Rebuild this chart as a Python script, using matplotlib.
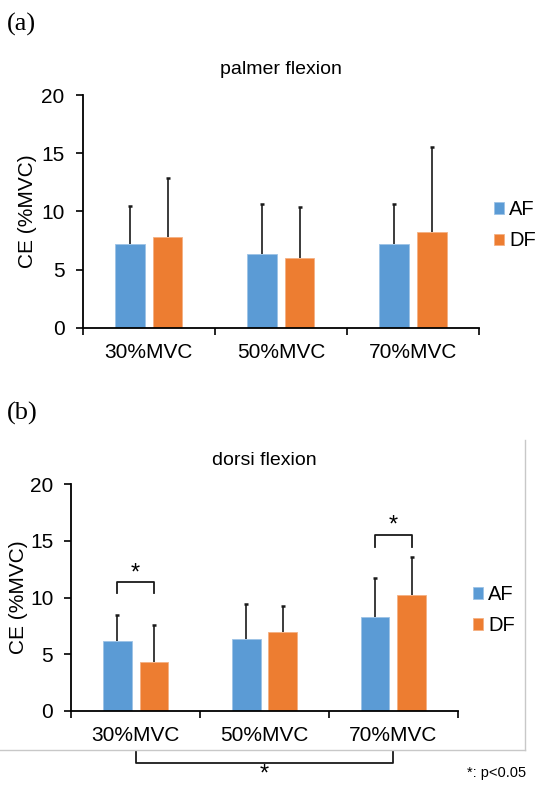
import matplotlib
matplotlib.use("Agg")
import matplotlib.pyplot as plt
from matplotlib.lines import Line2D
import numpy as np

categories = ["30%MVC", "50%MVC", "70%MVC"]
series_names = ["AF", "DF"]

# (a) palmer flexion
palmer_af_mean = [7.17, 6.34, 7.17]
palmer_af_sd = [3.29, 4.27, 3.49]
palmer_df_mean = [7.80, 5.99, 8.23]
palmer_df_sd = [5.07, 4.36, 7.33]

# (b) dorsi flexion
dorsi_af_mean = [6.20, 6.33, 8.30]
dorsi_af_sd = [2.30, 3.11, 3.46]
dorsi_df_mean = [4.30, 7.00, 10.20]
dorsi_df_sd = [3.29, 2.27, 3.40]

yticks = [0, 5, 10, 15, 20]

BLUE = "#5B9BD5"
ORANGE = "#ED7D31"
FONT = ["Liberation Sans", "DejaVu Sans"]
SERIF = ["Liberation Serif", "DejaVu Serif"]

plt.rcParams["font.family"] = FONT

fig = plt.figure(figsize=(5.37, 7.85), dpi=100)

ax_a = fig.add_axes([0.154, 0.5825, 0.738, 0.2964])
ax_b = fig.add_axes([0.1328, 0.0943, 0.7195, 0.2888])

W = 0.224
OFF = 0.142
FS = 15


def draw(ax, af_m, af_s, df_m, df_s, title, title_pad, ylabel_pad, leg_anchor):
    x = np.arange(len(categories))
    ax.bar(x - OFF, af_m, W, color=BLUE, edgecolor="#9DC3E6", linewidth=0.6,
           label=series_names[0], zorder=2)
    ax.bar(x + OFF, df_m, W, color=ORANGE, edgecolor="#F4B183", linewidth=0.6,
           label=series_names[1], zorder=2)
    for xs, m, s in ((x - OFF, af_m, af_s), (x + OFF, df_m, df_s)):
        m = np.asarray(m)
        top = m + np.asarray(s)
        ax.vlines(xs, m, top, color="#1a1a1a", lw=1.2, zorder=3)
        ax.plot(xs, top, linestyle="none", marker="_", markersize=3.5,
                markeredgewidth=1.8, color="#1a1a1a", zorder=3)
    ax.set_xlim(-0.5, 2.5)
    ax.set_ylim(0, 20)
    ax.set_yticks(yticks)
    ax.set_xticks([-0.5, 0.5, 1.5, 2.5])
    ax.set_xticklabels([])
    ax.set_xticks(x, minor=True)
    ax.set_xticklabels(categories, minor=True)
    ax.tick_params(axis="x", which="major", direction="out", length=5, width=1.2)
    ax.tick_params(axis="x", which="minor", length=0, pad=11, labelsize=FS)
    ax.tick_params(axis="y", direction="out", length=5, width=1.2, pad=8, labelsize=FS)
    for sp in ("top", "right"):
        ax.spines[sp].set_visible(False)
    for sp in ("left", "bottom"):
        ax.spines[sp].set_linewidth(1.3)
    ax.set_ylabel("CE (%MVC)", fontsize=FS, labelpad=ylabel_pad)
    ax.set_title(title, fontsize=14, pad=title_pad)
    ax.legend(loc="center left", bbox_to_anchor=leg_anchor, frameon=False,
              fontsize=14.5, handlelength=0.5, handleheight=0.5,
              handletextpad=0.25, labelspacing=0.6, borderaxespad=0, borderpad=0)
    return ax


draw(ax_a, palmer_af_mean, palmer_af_sd, palmer_df_mean, palmer_df_sd,
     "palmer flexion", 15, 3, (1.038, 0.44))
draw(ax_b, dorsi_af_mean, dorsi_af_sd, dorsi_df_mean, dorsi_df_sd,
     "dorsi flexion", 14, 1, (1.04, 0.445))

# significance brackets in panel (b)
def bracket(ax, x0, x1, ylow, yhigh, star_y):
    ax.plot([x0, x0, x1, x1], [ylow, yhigh, yhigh, ylow], color="#1a1a1a", lw=1.3,
            clip_on=False, zorder=4)
    ax.text((x0 + x1) / 2, star_y, "*", ha="center", va="center", fontsize=17,
            clip_on=False)

bracket(ax_b, 0 - OFF, 0 + OFF, 10.4, 11.36, 12.15)
bracket(ax_b, 2 - OFF, 2 + OFF, 14.5, 15.53, 16.33)

# between-condition bracket below the axis
ax_b.plot([0, 0, 2, 2], [-3.53, -4.62, -4.62, -3.53], color="#1a1a1a", lw=1.3,
          clip_on=False)
ax_b.text(1, -5.6, "*", ha="center", va="center", fontsize=17, clip_on=False)

# light frame around panel (b)
fig.add_artist(Line2D([0.0, 0.9777], [0.0446, 0.0446], color="#c8c8c8", lw=1.0,
                      transform=fig.transFigure))
fig.add_artist(Line2D([0.9777, 0.9777], [0.0446, 0.4395], color="#c8c8c8", lw=1.0,
                      transform=fig.transFigure))

fig.text(0.87, 1 - 773.3 / 785, "*: p<0.05", ha="left", va="center", fontsize=10.5)

fig.text(0.013, 1 - 24 / 785, "(a)", ha="left", va="center", fontsize=19,
         family=SERIF)
fig.text(0.013, 1 - 413 / 785, "(b)", ha="left", va="center", fontsize=19,
         family=SERIF)

fig.savefig("out.png", dpi=100)
